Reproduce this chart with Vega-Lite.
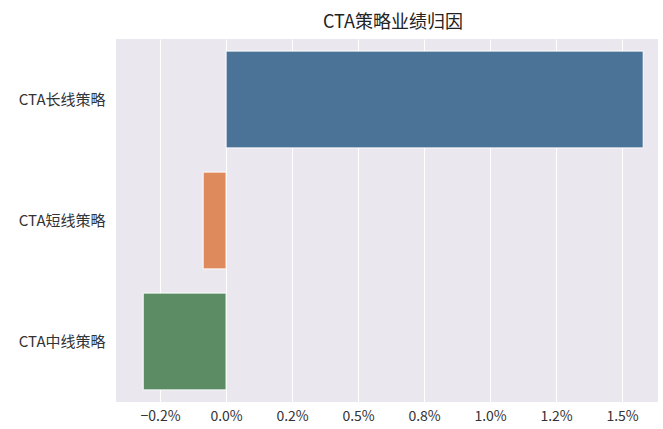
{
  "$schema": "https://vega.github.io/schema/vega-lite/v6.json",
  "width": 542,
  "height": 363,
  "autosize": {"type": "none"},
  "padding": {"left": 116, "top": 39, "right": 5, "bottom": 27},
  "background": "white",
  "title": {"text": "CTA策略业绩归因", "font": "Noto Sans CJK SC", "fontSize": 18, "fontWeight": "normal", "color": "#222222", "offset": 7, "dx": 6},
  "config": {
    "view": {"fill": "#eae7ee", "stroke": null},
    "axis": {"labelFont": "Noto Sans CJK SC", "labelColor": "#333333", "domain": false, "ticks": false, "title": null}
  },
  "data": {
    "values": [
      {"strategy": "CTA长线策略", "value": 1.58},
      {"strategy": "CTA短线策略", "value": -0.087},
      {"strategy": "CTA中线策略", "value": -0.314}
    ]
  },
  "mark": {"type": "bar", "stroke": "white", "strokeWidth": 1},
  "encoding": {
    "y": {
      "field": "strategy",
      "type": "nominal",
      "sort": ["CTA长线策略", "CTA短线策略", "CTA中线策略"],
      "scale": {"paddingInner": 0.2, "paddingOuter": 0.1},
      "axis": {"labelPadding": 11, "labelFontSize": 15, "grid": false}
    },
    "x": {
      "field": "value",
      "type": "quantitative",
      "scale": {"domain": [-0.417, 1.636], "nice": false, "zero": false},
      "axis": {
        "values": [-0.25, 0, 0.25, 0.5, 0.75, 1.0, 1.25, 1.5],
        "labelExpr": "datum.value == -0.25 ? '−0.2%' : datum.value == 0 ? '0.0%' : datum.value == 0.25 ? '0.2%' : datum.value == 0.5 ? '0.5%' : datum.value == 0.75 ? '0.8%' : datum.value == 1 ? '1.0%' : datum.value == 1.25 ? '1.2%' : '1.5%'",
        "labelFontSize": 14,
        "grid": true,
        "gridColor": "white",
        "gridWidth": 1,
        "labelPadding": 7
      }
    },
    "color": {
      "field": "strategy",
      "type": "nominal",
      "scale": {"domain": ["CTA长线策略", "CTA短线策略", "CTA中线策略"], "range": ["#4b7398", "#de8a5c", "#5b8c64"]},
      "legend": null
    }
  }
}
